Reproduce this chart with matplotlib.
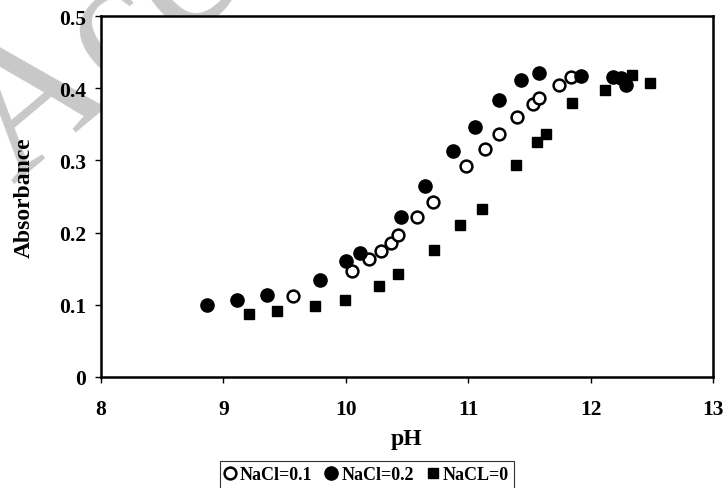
import matplotlib
matplotlib.use("Agg")
import matplotlib.pyplot as plt

# pH / absorbance
ph_01 = [9.57, 10.05, 10.19, 10.29, 10.37, 10.43, 10.58, 10.71, 10.98, 11.14,
         11.25, 11.40, 11.53, 11.58, 11.74, 11.84]
abs_01 = [0.112, 0.147, 0.163, 0.175, 0.186, 0.196, 0.221, 0.242, 0.292, 0.316,
          0.336, 0.360, 0.378, 0.386, 0.404, 0.415]

ph_02 = [8.87, 9.11, 9.36, 9.79, 10.00, 10.12, 10.45, 10.65, 10.88, 11.06,
         11.25, 11.43, 11.58, 11.92, 12.18, 12.25, 12.29]
abs_02 = [0.100, 0.107, 0.114, 0.135, 0.160, 0.172, 0.221, 0.264, 0.313, 0.346,
          0.383, 0.412, 0.421, 0.417, 0.415, 0.414, 0.404]

ph_00 = [9.21, 9.44, 9.75, 9.99, 10.27, 10.43, 10.72, 10.93, 11.11, 11.39,
         11.56, 11.64, 11.85, 12.12, 12.34, 12.49]
abs_00 = [0.087, 0.092, 0.099, 0.107, 0.126, 0.142, 0.176, 0.210, 0.233, 0.293,
          0.325, 0.336, 0.380, 0.397, 0.418, 0.407]

labels = ["NaCl=0.1", "NaCl=0.2", "NaCL=0"]
x_ticks = [8, 9, 10, 11, 12, 13]
y_ticks = [0, 0.1, 0.2, 0.3, 0.4, 0.5]
y_ticklabels = ["0", "0.1", "0.2", "0.3", "0.4", "0.5"]

plt.rcParams['font.family'] = ['Liberation Serif', 'DejaVu Serif']
plt.rcParams['font.weight'] = 'bold'

fig = plt.figure(figsize=(7.25, 4.89), dpi=100)
ax = fig.add_axes([0.1393, 0.227, 0.844, 0.7382])
ax.set_facecolor('white')

# faint watermark behind the axes
fig.text(0.017, 0.622, "Accepted", fontsize=135, color='#c8c8c8',
         family='Liberation Serif', fontweight='normal', rotation=40,
         rotation_mode='anchor', ha='left', va='baseline', zorder=-5)

ax.plot(ph_01, abs_01, linestyle='none', marker='o', markersize=8.5,
        markerfacecolor='white', markeredgecolor='black', markeredgewidth=1.8,
        label=labels[0], zorder=3)
ax.plot(ph_02, abs_02, linestyle='none', marker='o', markersize=9.5,
        color='black', label=labels[1], zorder=3)
ax.plot(ph_00, abs_00, linestyle='none', marker='s', markersize=7.5,
        color='black', label=labels[2], zorder=3)

ax.set_xlim(8, 13)
ax.set_ylim(0, 0.5)
ax.set_xticks(x_ticks)
ax.set_xticklabels([str(t) for t in x_ticks])
ax.set_yticks(y_ticks)
ax.set_yticklabels(y_ticklabels)
ax.tick_params(direction='out', length=4.5, width=1, labelsize=15.5)
ax.tick_params(axis='x', pad=11.5)
ax.tick_params(axis='y', pad=6)
for lab in ax.get_xticklabels() + ax.get_yticklabels():
    lab.set_fontweight('bold')
for sp in ax.spines.values():
    sp.set_linewidth(1.8)

ax.set_xlabel("pH", fontsize=17, fontweight='bold', labelpad=6)
ax.set_ylabel("Absorbance", fontsize=17, fontweight='bold', labelpad=18)

leg = fig.legend(loc='upper left', bbox_to_anchor=(220 / 725, 1 - 462 / 489),
                 borderaxespad=0, ncol=3, frameon=True, fancybox=False,
                 edgecolor='black', handlelength=0.5, handletextpad=0.3,
                 columnspacing=0.8, borderpad=0.3,
                 prop={'size': 13, 'weight': 'bold'})
leg.get_frame().set_linewidth(0.8)

fig.savefig("out.png", dpi=100)
